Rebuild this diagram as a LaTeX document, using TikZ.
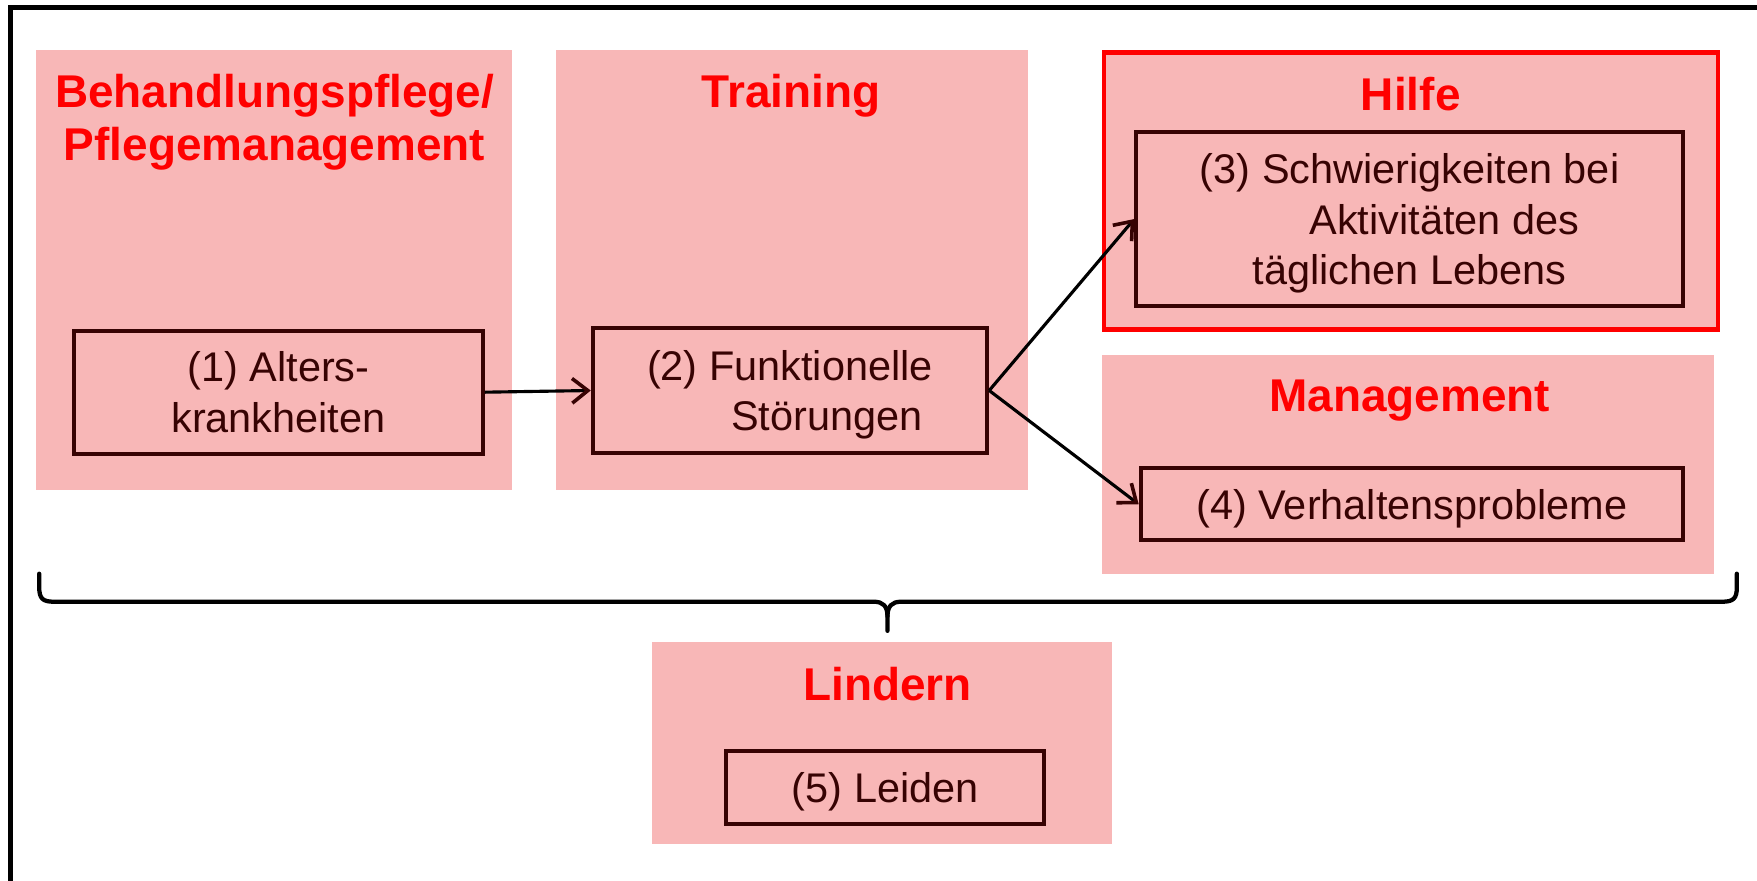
\documentclass[tikz,border=0pt]{standalone}
\usepackage{fontspec}
\setmainfont{Liberation Sans}
\usetikzlibrary{arrows.meta}
\definecolor{pinkfill}{RGB}{248,183,183}
\definecolor{darkmaroon}{RGB}{55,3,3}
\definecolor{titlered}{RGB}{255,0,0}
\begin{document}
\begin{tikzpicture}[x=1pt,y=-1pt,
  bgbox/.style={fill=pinkfill,inner sep=0pt,outer sep=0pt},
  itembox/.style={draw=darkmaroon,line width=3.6pt,text=darkmaroon,inner sep=0pt,align=center,
    text depth=0pt,font=\fontsize{37}{45}\selectfont},
  titletext/.style={text=titlered,inner sep=0pt,align=center,
    font=\fontsize{41}{47}\selectfont\bfseries},
  flow/.style={line width=2.8pt,draw=black,
    -{Straight Barb[length=14pt,width=22pt,line width=3.2pt,color=darkmaroon]}},
  bracestyle/.style={line width=3.8pt,draw=black,line cap=round,line join=round}
]
\useasboundingbox (0,0) rectangle (1568,786);
\fill[white] (0,0) rectangle (1568,786);
% frame
\draw[line width=4.8pt] (1575,6.5) -- (9.5,6.5) -- (9.5,795);

% background boxes
\node[bgbox,minimum width=425pt,minimum height=392pt] (bg1) at (244.5,241) {};
\node[bgbox,minimum width=421pt,minimum height=392pt] (bg2) at (706.5,241) {};
\node[bgbox,draw=titlered,line width=4pt,minimum width=548pt,minimum height=247pt] (bg3) at (1259,170.5) {};
\node[bgbox,minimum width=547pt,minimum height=195pt] (bg4) at (1256.5,414.5) {};
\node[bgbox,minimum width=410pt,minimum height=180pt] (bg5) at (787,663) {};

% titles
\node[titletext,anchor=base] (t1) at (245,143) {Behandlungspflege/\\Pflegemanagement};
\node[titletext,anchor=base] (t2) at (706,96) {Training};
\node[titletext,anchor=base] (t3) at (1259,99) {Hilfe};
\node[titletext,anchor=base] (t4) at (1258,367) {Management};
\node[titletext,anchor=base] (t5) at (792,625) {Lindern};

% item boxes
\node[itembox,minimum width=365pt,minimum height=110pt] (i1) at (248.5,350) {(1) Alters-\\krankheiten};
\node[itembox,minimum width=352pt,minimum height=111pt] (i2) at (705,348.5) {(2) Funktionelle\\\hspace*{66pt}Störungen};
\node[itembox,minimum width=488pt,minimum height=155pt] (i3) at (1258,195.5) {(3) Schwierigkeiten bei\\\hspace*{62pt}Aktivitäten des\\täglichen Lebens};
\node[itembox,minimum width=484pt,minimum height=64pt] (i4) at (1260,450) {(4) Verhaltensprobleme};
\node[itembox,minimum width=284pt,minimum height=65pt] (i5) at (790,702.5) {(5) Leiden};

% connectors
\draw[flow] (i1.east) -- (i2.west);
\draw[flow] (i2.east) -- (i3.west);
\draw[flow] (i2.east) -- (i4.west);

% brace
\coordinate (bl) at (35,512);
\coordinate (br) at (1550,512);
\coordinate (btip) at (792,563);
\draw[bracestyle] (bl) -- (35,524) .. controls (35,534) and (38,537) .. (48,537)
  -- (780,537) .. controls (788,537) and (792,541) .. (792,550) -- (btip);
\draw[bracestyle] (br) -- (1550,524) .. controls (1550,534) and (1547,537) .. (1537,537)
  -- (804,537) .. controls (796,537) and (792,541) .. (792,550);
\end{tikzpicture}
\end{document}
